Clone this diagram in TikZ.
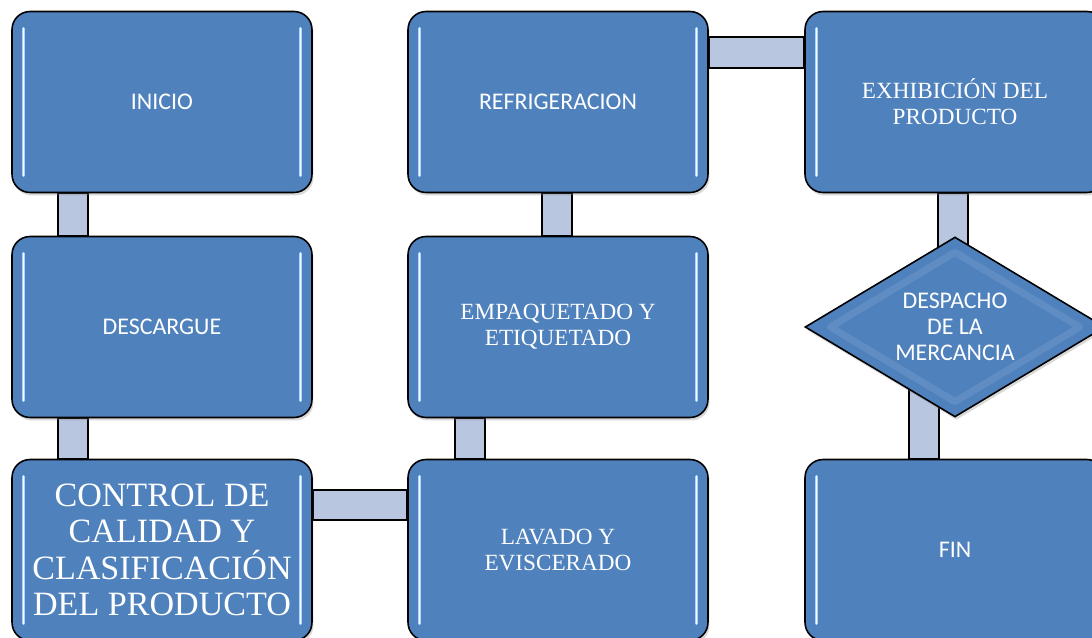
\documentclass[tikz,border=0pt]{standalone}
\usepackage{fontspec}
\setmainfont{Liberation Serif}
\newfontfamily\calibri{Carlito}
\usetikzlibrary{shapes.geometric,calc,backgrounds,shadows}
\definecolor{boxblue}{HTML}{4F81BD}
\definecolor{barblue}{HTML}{B9C6E0}
\definecolor{glint}{HTML}{A9D4FF}

\begin{document}
\begin{tikzpicture}[x=0.02cm,y=-0.02cm]
  \tikzset{BoxStyle/.style = {
  shape = rectangle,
  rounded corners = 0.36cm,
  fill = boxblue,
  draw = black,
  line width = 0.9pt,
  text = white,
  align = center,
  inner sep = 0pt,
  minimum width = 6cm,
  minimum height = 3.62cm,
  drop shadow = {shadow xshift=0.03cm, shadow yshift=-0.06cm, opacity=0.3},
  path picture = {
    \foreach \side/\dx in {west/0.23cm, east/-0.23cm}{
      \draw[glint, line width=2pt, line cap=round, rounded corners=0pt]
        ($(path picture bounding box.north \side)+(\dx,-0.34cm)$) --
        ($(path picture bounding box.south \side)+(\dx,0.34cm)$);
      \draw[white, line width=0.7pt, line cap=round, rounded corners=0pt]
        ($(path picture bounding box.north \side)+(\dx,-0.34cm)$) --
        ($(path picture bounding box.south \side)+(\dx,0.34cm)$);
    }}}}
  \tikzset{DiamondStyle/.style = {
  shape = diamond,
  aspect = 1.667,
  fill = boxblue,
  draw = black,
  line width = 0.9pt,
  text = white,
  align = center,
  inner sep = 0pt,
  minimum width = 6cm,
  minimum height = 3.6cm,
  drop shadow = {shadow xshift=0.03cm, shadow yshift=-0.06cm, opacity=0.3},
  path picture = {
    \draw[boxblue!70!white, opacity=0.3, line width=4pt, line join=round]
      ($(path picture bounding box.north)+(0,-0.3cm)$) --
      ($(path picture bounding box.east)+(-0.5cm,0)$) --
      ($(path picture bounding box.south)+(0,0.3cm)$) --
      ($(path picture bounding box.west)+(0.5cm,0)$) -- cycle;
  }}}
  \tikzset{BarStyle/.style = {
  draw = black,
  line width = 0.9pt,
  fill = barblue}}
  \tikzset{SansLabel/.style = {font=\calibri\fontsize{13.6}{14.7}\selectfont}}
  \tikzset{SerifLabel/.style = {font=\fontsize{13.2}{14.7}\selectfont}}

  \useasboundingbox (0,0) rectangle (1092,638);
  \clip (0,0) rectangle (1092,638);

  \node[BoxStyle, SansLabel] (inicio) at (162,102) {INICIO};
  \node[BoxStyle, SansLabel] (descargue) at (162,327) {DESCARGUE};
  \node[BoxStyle, font=\fontsize{19.4}{20.7}\selectfont] (control) at (162,550)
    {CONTROL DE\\CALIDAD Y\\CLASIFICACIÓN\\DEL PRODUCTO};
  \node[BoxStyle, SerifLabel] (lavado) at (558,550) {LAVADO Y\\EVISCERADO};
  \node[BoxStyle, SerifLabel] (empaque) at (558,327) {EMPAQUETADO Y\\ETIQUETADO};
  \node[BoxStyle, SansLabel] (refrigera) at (558,102) {REFRIGERACION};
  \node[BoxStyle, SerifLabel] (exhibe) at (955,102) {EXHIBICIÓN DEL\\PRODUCTO};
  \node[DiamondStyle, SansLabel] (despacho) at (955,327) {DESPACHO\\DE LA\\MERCANCIA};
  \node[BoxStyle, SansLabel] (fin) at (955,550) {FIN};

  \begin{pgfonlayer}{background}
    \draw[BarStyle] ($(inicio.south)+(-104,0)$) rectangle ($(descargue.north)+(-74,0)$);
    \draw[BarStyle] ($(descargue.south)+(-104,0)$) rectangle ($(control.north)+(-74,0)$);
    \draw[BarStyle] ($(control.east)+(0,-60)$) rectangle ($(lavado.west)+(0,-30)$);
    \draw[BarStyle] ($(lavado.north)+(-103,0)$) rectangle ($(empaque.south)+(-73,0)$);
    \draw[BarStyle] ($(empaque.north)+(-16,0)$) rectangle ($(refrigera.south)+(14,0)$);
    \draw[BarStyle] ($(refrigera.east)+(0,-65)$) rectangle ($(exhibe.west)+(0,-34)$);
    \draw[BarStyle] ($(exhibe.south)+(-17,0)$) rectangle ($(despacho.center)+(13,0)$);
    \draw[BarStyle] ($(despacho.center)+(-46,0)$) rectangle ($(fin.north)+(-16,0)$);
  \end{pgfonlayer}
\end{tikzpicture}
\end{document}
